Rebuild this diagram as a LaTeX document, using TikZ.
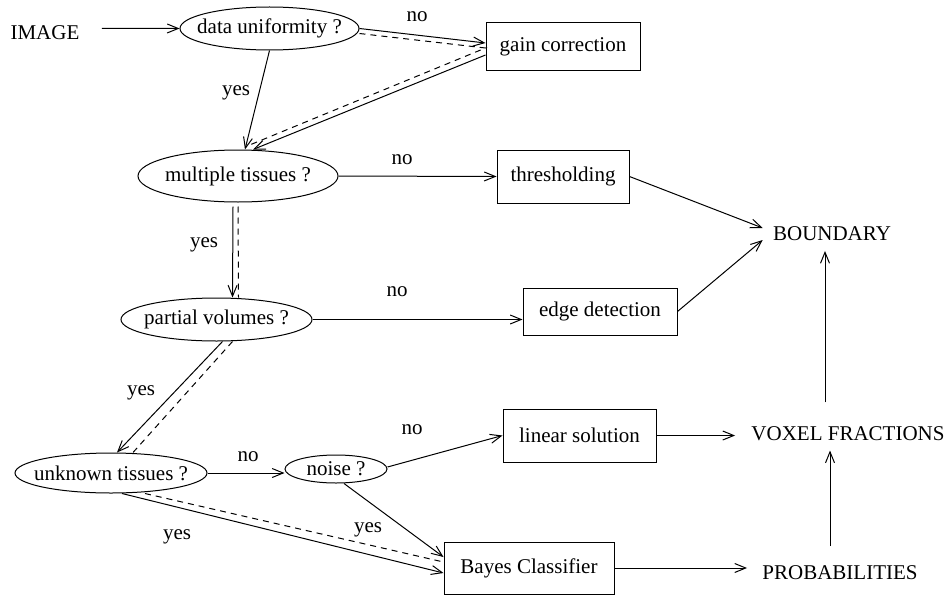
\documentclass[tikz,border=0pt]{standalone}
\usepackage{fontspec}
\setmainfont{Liberation Serif}
\usepackage{tikz}
\usetikzlibrary{shapes.geometric, arrows.meta}

\begin{document}
\begin{tikzpicture}[x=0.5pt, y=-0.5pt,
		font=\fontsize{10.5}{12}\selectfont,
		query/.style 2 args={ellipse, draw, line width=0.5pt, inner sep=0pt, inner xsep=-20pt, minimum width=#1, minimum height=#2},
		proc/.style 2 args={rectangle, draw, line width=0.5pt, inner sep=0pt, minimum width=#1, minimum height=#2},
		word/.style={inner sep=0pt},
		arr/.style={line width=0.5pt, -{Straight Barb[length=5.5pt,width=4.5pt]}},
		trace/.style={line width=0.5pt, dash pattern=on 3pt off 2.5pt}]
		\useasboundingbox (0,0) rectangle (951,599);
		
		\node[word] (img) at (45,33) {IMAGE};
		\node[query={89.5pt}{21.5pt}] (du) at (269.5,28.5) {data uniformity ?};
		\node[proc={77pt}{24pt}] (gain) at (563,47) {gain correction};
		\node[query={100pt}{26pt}] (mt) at (238,176) {multiple tissues ?};
		\node[proc={66pt}{26.5pt}] (thr) at (563,176.5) {thresholding};
		\node[word] (bnd) at (832,233.5) {BOUNDARY};
		\node[query={95.5pt}{21.5pt}] (pv) at (216.5,319.5) {partial volumes ?};
		\node[proc={77pt}{23.5pt}] (edge) at (600,311.5) {edge detection};
		\node[query={96pt}{20pt}] (unk) at (111,473) {unknown tissues ?};
		\node[query={51pt}{14pt}] (noise) at (336,469) {noise ?};
		\node[proc={76.5pt}{26.5pt}] (lin) at (579.5,435.5) {linear solution};
		\node[proc={85pt}{26pt}] (bay) at (529,568) {Bayes Classifier};
		\node[word] (vox) at (848,434) {VOXEL FRACTIONS};
		\node[word] (prob) at (840,572.5) {PROBABILITIES};
		
		% answers
		\node (no1) at (417,17) {no};
		\node (yes1) at (236,93) {yes};
		\node (no2) at (402,160) {no};
		\node (yes2) at (204,245) {yes};
		\node (no3) at (397,292) {no};
		\node (yes3) at (141,393) {yes};
		\node (no4) at (248,457) {no};
		\node (no5) at (412,430) {no};
		\node (yes4) at (368,530) {yes};
		\node (yes5) at (177,537) {yes};
		
		% decision arrows
		\draw[arr] ([xshift=11pt,yshift=2.35pt]img.east) -- (du.west);
		\draw[arr] (du.east) -- ([yshift=2pt]gain.west);
		\draw[arr] (du.south) -- ([xshift=3.5pt]mt.north);
		\draw[arr] ([yshift=-4pt]gain.west) -- ([xshift=7.5pt]mt.north);
		\draw[arr] (mt.east) -- (thr.west);
		\draw[arr] ([xshift=-2.5pt,yshift=-2pt]mt.south) -- ([xshift=8pt]pv.north);
		\draw[arr] (pv.east) -- (pv.east -| edge.west);
		\draw[arr] ([xshift=3pt]pv.south) -- ([xshift=3pt]unk.north);
		\draw[arr] (unk.east) -- (unk.east -| noise.west);
		\draw[arr] ([xshift=5.5pt]unk.south) -- ([yshift=-2.5pt]bay.west);
		\draw[arr] ([yshift=1pt]noise.east) -- (lin.west);
		\draw[arr] ([xshift=4pt]noise.south) -- ([yshift=5.5pt]bay.west);
		
		% results
		\draw[arr] (thr.east) -- ([xshift=-5pt,yshift=2.75pt]bnd.west);
		\draw[arr] (edge.east) -- ([xshift=-5pt,yshift=-3.25pt]bnd.west);
		\draw[arr] (lin.east) -- ([xshift=-8pt]lin.east -| vox.west);
		\draw[arr] (bay.east) -- ([xshift=-7.5pt]bay.east -| prob.west);
		\draw[arr, shorten >=4.5pt] ([xshift=-5pt,yshift=9.5pt]prob.north) -- ([xshift=-5pt]prob.north |- vox.south);
		\draw[arr, shorten >=5pt] ([xshift=-11.5pt,yshift=12pt]vox.north) -- ([xshift=-11.5pt]vox.north |- bnd.south);
		
		% dashed trace
		\draw[trace] ([yshift=-2.5pt]du.east) -- ([yshift=-0.5pt]gain.west) -- ([xshift=4pt,yshift=1.5pt]mt.north);
		\draw[trace] ([yshift=-2pt]mt.south) -- ([xshift=11pt]pv.north);
		\draw[trace] ([xshift=8pt]pv.south) -- ([xshift=11pt]unk.north);
		\draw[trace] ([xshift=17pt]unk.south) -- ([yshift=3pt]bay.west);
	\end{tikzpicture}
\end{document}
